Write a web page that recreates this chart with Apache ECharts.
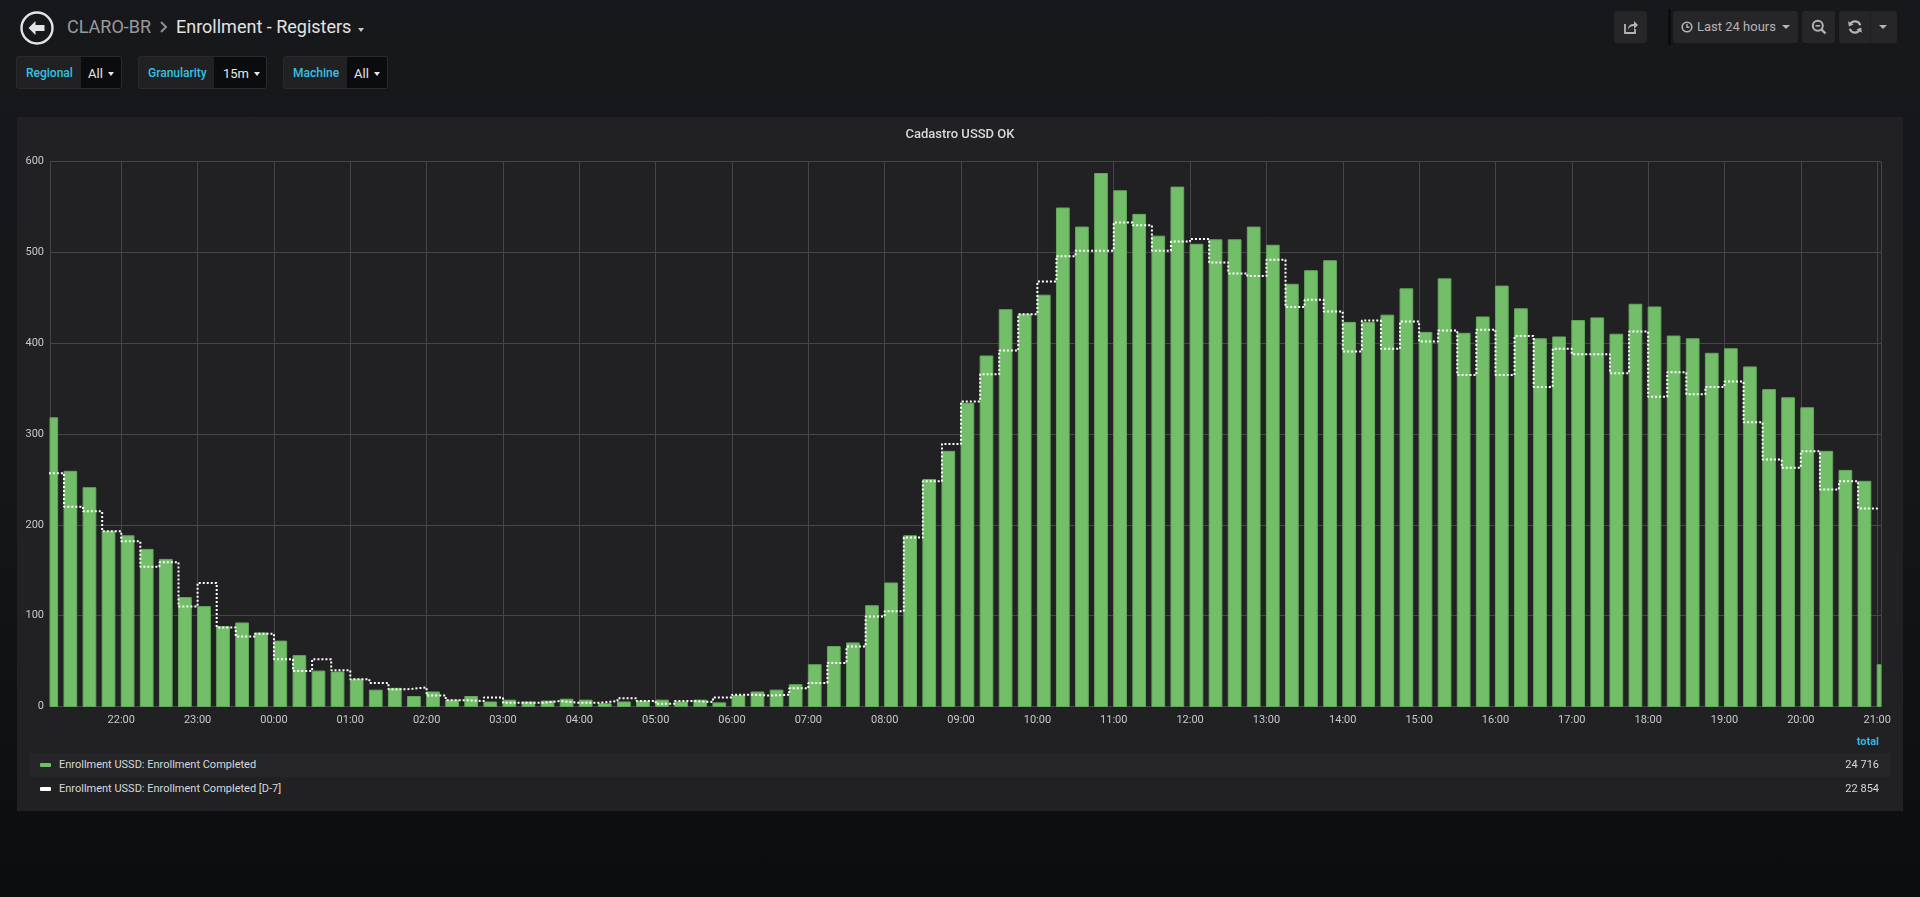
<!DOCTYPE html>
<html>
<head>
<meta charset="utf-8">
<script src="https://cdn.jsdelivr.net/npm/echarts@6/dist/echarts.min.js"></script>
<style>
  html, body { margin:0; padding:0; }
  body { width:1920px; height:897px; overflow:hidden; position:relative;
         background: linear-gradient(to bottom, #17181b 0px, #161719 420px, #0c0d0f 897px);
         font-family: Roboto, "Noto Sans", sans-serif; }
  .abs { position:absolute; }
  .crumb { top:14px; height:26px; line-height:26px; font-size:18px; white-space:nowrap; }
  .pill-l { top:56px; height:33px; line-height:33px; box-sizing:border-box; background:#212124; border:1px solid #2a2a2d; border-right:none;
            border-radius:3px 0 0 3px; color:#35c2e2; font-size:12px; font-weight:500; padding-left:9px; }
  .pill-v { top:56px; height:33px; line-height:33px; box-sizing:border-box; background:#0b0c0e; border:1px solid #2a2a2d; border-left:none;
            border-radius:0 3px 3px 0; color:#e6e6e6; font-size:13px; padding-left:7px; }
  .caret { display:inline-block; width:0; height:0; border-left:3.5px solid transparent; border-right:3.5px solid transparent; border-top:4px solid #e6e6e6; vertical-align:middle; margin-left:5px; margin-top:-2px; }
  .btn { top:11px; height:32px; background:#262629; border-radius:3px; }
  .leg { font-size:11px; color:#d8d9da; }
</style>
</head>
<body>
<script>
// ---------------- DATA ----------------
const SERIES_NAMES = ['Enrollment USSD: Enrollment Completed', 'Enrollment USSD: Enrollment Completed [D-7]'];
const LEGEND_TOTALS = ['24 716', '22 854'];
const START_TIME = '2018-05-14T21:00:00Z';   // first 15m bucket
const STEP_MINUTES = 15;
const AXIS_MIN = '2018-05-14T21:04:00Z';
const AXIS_MAX = '2018-05-15T21:03:00Z';
const Y_TICKS = [0, 100, 200, 300, 400, 500, 600];

const completed = [
  318, 259, 241, 193, 188, 173, 162, 120, 110, 88, 92, 81,
  72, 56, 39, 38, 30, 18, 20, 11, 16, 7, 11, 5,
  7, 5, 6, 8, 7, 3, 5, 6, 7, 5, 7, 4,
  12, 16, 18, 24, 46, 66, 70, 111, 136, 188, 250, 281,
  334, 386, 437, 432, 453, 549, 528, 587, 568, 542, 518, 572,
  509, 514, 514, 528, 508, 465, 480, 491, 423, 423, 431, 460,
  412, 471, 411, 429, 463, 438, 405, 407, 425, 428, 410, 443,
  440, 408, 405, 389, 394, 374, 349, 340, 329, 281, 260, 248,
  46
];
const completedD7 = [
  257, 220, 215, 193, 182, 154, 159, 110, 136, 87, 77, 80,
  52, 39, 52, 40, 30, 26, 19, 21, 12, 7, 6, 10,
  4, 4, 6, 4, 4, 6, 9, 6, 3, 6, 5, 10,
  13, 12, 13, 20, 26, 48, 66, 99, 105, 186, 248, 289,
  336, 366, 392, 432, 468, 496, 502, 502, 533, 530, 502, 512,
  515, 489, 477, 474, 492, 440, 448, 435, 391, 425, 394, 424,
  402, 414, 365, 415, 365, 408, 352, 394, 388, 388, 367, 413,
  341, 368, 344, 352, 358, 313, 272, 263, 281, 239, 248, 218,
  215
];
</script>

<!-- header -->
<svg class="abs" style="left:19px;top:10px" width="36" height="36" viewBox="0 0 36 36">
  <circle cx="18" cy="18" r="15.5" fill="none" stroke="#e4e4e4" stroke-width="2.4"/>
  <path d="M9.5 18 L16.5 11 L16.5 15 L25.5 15 L25.5 21 L16.5 21 L16.5 25 Z" fill="#e4e4e4"/>
</svg>
<div class="abs crumb" style="left:67px;color:#9a9a9c;">CLARO-BR</div>
<svg class="abs" style="left:159px;top:20px" width="10" height="14" viewBox="0 0 10 14">
  <polyline points="2,2 7,7 2,12" fill="none" stroke="#8e8e90" stroke-width="2"/>
</svg>
<div class="abs crumb" style="left:176px;color:#e3e3e3;">Enrollment - Registers</div>
<div class="abs" style="left:358px;top:28px;width:0;height:0;border-left:3.5px solid transparent;border-right:3.5px solid transparent;border-top:4px solid #c8c8c8;"></div>

<div class="abs pill-l" style="left:16px;width:65px;">Regional</div>
<div class="abs pill-v" style="left:81px;width:41px;">All<span class="caret"></span></div>
<div class="abs pill-l" style="left:138px;width:76px;">Granularity</div>
<div class="abs pill-v" style="left:214px;width:53px;padding-left:9px;">15m<span class="caret"></span></div>
<div class="abs pill-l" style="left:283px;width:64px;">Machine</div>
<div class="abs pill-v" style="left:347px;width:41px;">All<span class="caret"></span></div>

<!-- right toolbar -->
<div class="abs btn" style="left:1614px;width:33px;">
  <svg class="abs" style="left:9px;top:8px" width="16" height="16" viewBox="0 0 16 16">
    <path d="M2 5 L2 14 L12 14 L12 10" fill="none" stroke="#b4b4b4" stroke-width="1.8"/>
    <path d="M5 11 C5 6 8 5 11 5 L11 2 L15 6 L11 10 L11 7 C8 7 6 8 5 11 Z" fill="#b4b4b4"/>
  </svg>
</div>
<div class="abs" style="left:1668px;top:9px;width:3px;height:36px;background:#0b0c0e;"></div>
<div class="abs btn" style="left:1673px;width:125px;">
  <svg class="abs" style="left:8px;top:10px" width="12" height="12" viewBox="0 0 12 12">
    <circle cx="6" cy="6" r="4.8" fill="none" stroke="#b4b4b4" stroke-width="1.6"/>
    <path d="M6 3 L6 6.3 L8.3 6.3" fill="none" stroke="#b4b4b4" stroke-width="1.4"/>
  </svg>
  <div class="abs" style="left:24px;top:0;line-height:32px;font-size:13px;color:#b4b4b4;white-space:nowrap;">Last 24 hours</div>
  <div class="abs" style="left:109px;top:14px;width:0;height:0;border-left:4px solid transparent;border-right:4px solid transparent;border-top:4.5px solid #b4b4b4;"></div>
</div>
<div class="abs btn" style="left:1802px;width:33px;">
  <svg class="abs" style="left:9px;top:8px" width="16" height="16" viewBox="0 0 16 16">
    <circle cx="6.8" cy="6.8" r="5" fill="none" stroke="#b4b4b4" stroke-width="2"/>
    <path d="M4.5 6.8 L9.1 6.8" stroke="#b4b4b4" stroke-width="1.6"/>
    <path d="M10.3 10.3 L14.5 14.5" stroke="#b4b4b4" stroke-width="2.4"/>
  </svg>
</div>
<div class="abs btn" style="left:1839px;width:58px;">
  <svg class="abs" style="left:8px;top:8px" width="16" height="16" viewBox="0 0 16 16">
    <path d="M13.2 6.2 A5.4 5.4 0 0 0 3.2 5.4" fill="none" stroke="#b4b4b4" stroke-width="2.2"/>
    <path d="M1.2 2.2 L1.8 7.6 L6.6 5.4 Z" fill="#b4b4b4"/>
    <path d="M2.8 9.8 A5.4 5.4 0 0 0 12.8 10.6" fill="none" stroke="#b4b4b4" stroke-width="2.2"/>
    <path d="M14.8 13.8 L14.2 8.4 L9.4 10.6 Z" fill="#b4b4b4"/>
  </svg>
  <div class="abs" style="left:31px;top:0;width:1px;height:32px;background:#1e1e20;"></div>
  <div class="abs" style="left:40px;top:14px;width:0;height:0;border-left:4px solid transparent;border-right:4px solid transparent;border-top:4.5px solid #b4b4b4;"></div>
</div>

<!-- panel -->
<div class="abs" style="left:17px;top:117px;width:1886px;height:694px;background:#212124;"></div>
<div id="chart" class="abs" style="left:17px;top:117px;width:1886px;height:630px;"></div>

<!-- legend -->
<div class="abs" style="left:1700px;width:179px;top:735px;line-height:14px;text-align:right;font-size:11px;font-weight:bold;color:#33b5e5;">total</div>
<div class="abs" style="left:30px;top:753px;width:1860px;height:24px;background:#262629;"></div>
<div id="legend"></div>

<script>
const legendColors = ['#73bf69', '#ffffff'];
const legendHost = document.getElementById('legend');
SERIES_NAMES.forEach((name, i) => {
  const top = 753 + i * 24;
  legendHost.insertAdjacentHTML('beforeend',
    '<div class="abs" style="left:40px;top:' + (top + 10) + 'px;width:11px;height:4px;border-radius:1px;background:' + legendColors[i] + ';"></div>' +
    '<div class="abs leg" style="left:59px;top:' + top + 'px;line-height:24px;white-space:nowrap;">' + name + '</div>' +
    '<div class="abs leg" style="left:1700px;width:179px;text-align:right;top:' + top + 'px;line-height:24px;">' + LEGEND_TOTALS[i] + '</div>');
});

const t0 = Date.parse(START_TIME);
const times = completed.map((_, i) => t0 + i * STEP_MINUTES * 60000);
const barData = times.map((t, i) => [t, completed[i]]);
const lineData = times.map((t, i) => [t, completedD7[i]]);
const BAR_SPAN = 10 * 60000;
const pad = n => (n < 10 ? '0' : '') + n;

const chart = echarts.init(document.getElementById('chart'), null, { renderer: 'canvas' });
chart.setOption({
  animation: false,
  useUTC: true,
  backgroundColor: 'transparent',
  title: {
    text: 'Cadastro USSD OK', left: 'center', top: 6,
    textStyle: { color: '#d8d9da', fontSize: 13, fontWeight: 500, fontFamily: 'Roboto' }
  },
  grid: { left: 33, top: 44.7, width: 1831, height: 544.8, containLabel: false },
  xAxis: {
    type: 'time',
    min: Date.parse(AXIS_MIN), max: Date.parse(AXIS_MAX),
    minInterval: 3600000, maxInterval: 3600000,
    axisLine: { show: false }, axisTick: { show: false },
    splitLine: { show: true, lineStyle: { color: '#464649', width: 1 } },
    axisLabel: {
      color: '#c8c9ca', fontSize: 11, fontFamily: 'Roboto', margin: 8,
      showMinLabel: false, showMaxLabel: false,
      formatter: v => { const d = new Date(v); return pad(d.getUTCHours()) + ':' + pad(d.getUTCMinutes()); }
    }
  },
  yAxis: {
    type: 'value', min: Y_TICKS[0], max: Y_TICKS[Y_TICKS.length - 1], interval: Y_TICKS[1] - Y_TICKS[0],
    axisLine: { show: false }, axisTick: { show: false },
    splitLine: { show: true, lineStyle: { color: '#464649', width: 1 } },
    axisLabel: { color: '#c8c9ca', fontSize: 11, fontFamily: 'Roboto', margin: 6 }
  },
  series: [
    {
      name: SERIES_NAMES[0],
      type: 'custom',
      data: barData,
      encode: { x: 0, y: 1 },
      renderItem: (params, api) => {
        const t = api.value(0), v = api.value(1);
        const p0 = api.coord([t, v]);
        const p1 = api.coord([t + BAR_SPAN, 0]);
        const cs = params.coordSys;
        const shape = echarts.graphic.clipRectByRect(
          { x: p0[0], y: p0[1], width: p1[0] - p0[0], height: p1[1] - p0[1] },
          { x: cs.x, y: cs.y, width: cs.width, height: cs.height });
        if (!shape) return null;
        return { type: 'rect', shape: shape, style: { fill: '#73bf69', stroke: '#64a85b', lineWidth: 1 } };
      }
    },
    {
      name: SERIES_NAMES[1],
      type: 'line',
      data: lineData,
      step: 'end',
      showSymbol: false,
      symbol: 'none',
      clip: true,
      z: 5,
      lineStyle: { color: '#ffffff', width: 2, type: [2, 2] }
    }
  ]
});
</script>
</body>
</html>
